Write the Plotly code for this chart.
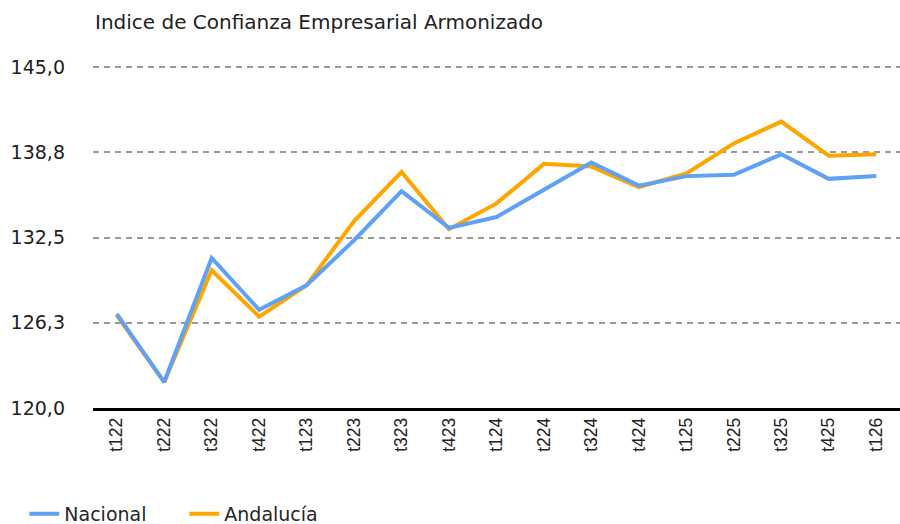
import plotly.graph_objects as go

categories = ["t122", "t222", "t322", "t422", "t123", "t223", "t323", "t423", "t124",
              "t224", "t324", "t424", "t125", "t225", "t325", "t425", "t126"]
nacional = [126.9, 121.9, 131.0, 127.2, 129.0, 132.3, 135.9, 133.2, 134.0,
            136.0, 138.0, 136.3, 137.0, 137.1, 138.6, 136.8, 137.0]
andalucia = [126.8, 121.9, 130.1, 126.7, 129.0, 133.7, 137.3, 133.1, 135.0,
             137.9, 137.7, 136.2, 137.2, 139.4, 141.0, 138.5, 138.6]
y_tickvals = [120, 126.25, 132.5, 138.75, 145]
y_ticktext = ["120,0", "126,3", "132,5", "138,8", "145,0"]

TXT_FONT = "DejaVu Sans"

fig = go.Figure()
fig.add_trace(go.Scatter(x=categories, y=andalucia, name="Andalucía", mode="lines",
                         line=dict(color="#FFA500", width=4), legendrank=2))
fig.add_trace(go.Scatter(x=categories, y=nacional, name="Nacional", mode="lines",
                         line=dict(color="#5EA1F7", width=4), legendrank=1))

fig.update_layout(
    width=900, height=524,
    margin=dict(l=93, r=0, t=65, b=116, autoexpand=False),
    paper_bgcolor="white", plot_bgcolor="white",
    title=dict(text="Indice de Confianza Empresarial Armonizado",
               x=95/900, xanchor="left", xref="container",
               y=1-22/524, yanchor="middle", yref="container",
               font=dict(family=TXT_FONT, size=20, color="#222222")),
    legend=dict(orientation="h", xref="container", yref="paper",
                x=0.027, xanchor="left", y=-(514-408)/343, yanchor="middle",
                font=dict(family=TXT_FONT, size=19, color="#262626"),
                entrywidth=115, entrywidthmode="pixels"),
    showlegend=True,
)
fig.update_xaxes(type="category", range=[-0.5, 16.5], tickangle=-90, automargin=False,
                 showgrid=False, showline=True, linecolor="black", linewidth=2.5,
                 ticks="", tickfont=dict(family="Liberation Sans", size=17.5, color="#222"))
fig.update_yaxes(range=[120, 145.147], tickvals=y_tickvals, ticktext=y_ticktext, automargin=False,
                 showgrid=True, gridcolor="#999999", gridwidth=2, griddash="6px,5px",
                 zeroline=False, showline=False, ticks="", ticklabelstandoff=27,
                 tickfont=dict(family=TXT_FONT, size=19, color="#222222"))

fig.write_html("out.html", config={"displayModeBar": False},
               post_script="document.body.style.margin='0';")
